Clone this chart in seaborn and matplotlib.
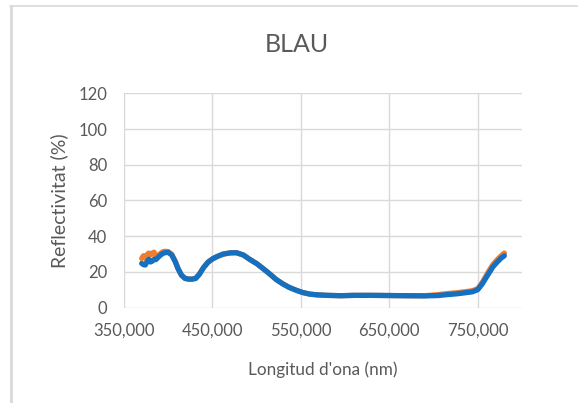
import matplotlib
matplotlib.use("Agg")
import matplotlib.pyplot as plt
from matplotlib.lines import Line2D
from matplotlib.ticker import FuncFormatter
import seaborn as sns
import pandas as pd

# Wavelength (nm) and reflectivity (%) of two measurements of the blue sample
wavelength = [370, 372, 374, 376, 378, 380, 382, 384, 386, 388, 390, 393, 396,
              400, 404, 408, 411, 415, 419, 423, 427, 431, 435, 440, 445, 450,
              455, 462, 470, 477, 485, 492, 500, 507, 515, 522, 530, 537, 545,
              552, 560, 568, 580, 595, 610, 630, 650, 670, 690, 705, 715, 725,
              735, 744, 750, 755, 761, 767, 772, 776, 780]
refl_a = [24.7, 24.0, 23.8, 25.5, 27.0, 25.5, 26.0, 27.0, 26.8, 27.8, 28.8, 30.0,
          30.7, 30.9, 29.4, 25.6, 21.9, 18.1, 16.3, 15.9, 15.9, 16.3, 18.5, 22.4,
          25.4, 27.2, 28.5, 29.9, 30.6, 30.7, 29.4, 27.0, 24.6, 21.9, 18.7, 15.7,
          13.1, 11.2, 9.6, 8.4, 7.5, 7.1, 6.8, 6.6, 6.8, 6.8, 6.7, 6.6, 6.5, 6.7,
          7.2, 7.6, 8.2, 8.8, 10.0, 13.2, 18.0, 22.7, 25.5, 27.5, 29.0]
refl_b = [27.5, 29.0, 27.5, 29.5, 30.5, 29.5, 30.5, 31.0, 28.5, 29.0, 29.8, 31.0,
          31.5, 31.3, 29.8, 25.8, 21.9, 18.1, 16.3, 15.9, 15.9, 16.3, 18.5, 22.4,
          25.4, 27.2, 28.5, 29.9, 30.6, 30.7, 29.4, 27.0, 24.6, 21.9, 18.7, 15.7,
          13.1, 11.2, 9.6, 8.4, 7.5, 7.1, 6.8, 6.6, 6.8, 6.8, 6.7, 6.6, 6.6, 7.2,
          7.8, 8.2, 8.8, 9.4, 10.6, 14.0, 19.2, 24.0, 26.8, 28.8, 30.5]

x_ticks = [350, 450, 550, 650, 750]
y_ticks = [0, 20, 40, 60, 80, 100, 120]

df = pd.concat([
    pd.DataFrame({"wl": wavelength, "refl": refl_b, "serie": "mesura_2"}),
    pd.DataFrame({"wl": wavelength, "refl": refl_a, "serie": "mesura_1"}),
])

sns.set_theme(style="white")
plt.rcParams["font.family"] = ["Lato", "DejaVu Sans"]
text_col = "#595959"
grid_col = "#d9d9d9"

fig = plt.figure(figsize=(5.78, 4.03), dpi=100)
ax = fig.add_axes([124 / 578, 1 - 307.5 / 403, 398 / 578, 214.2 / 403])

sns.lineplot(data=df, x="wl", y="refl", hue="serie",
             hue_order=["mesura_2", "mesura_1"],
             palette={"mesura_2": "#ED7D31", "mesura_1": "#1470C0"},
             linewidth=3.8, legend=False, sort=False, ax=ax,
             solid_capstyle="round", solid_joinstyle="round")

ax.set_xlim(350, 800)
ax.set_ylim(0, 120)
ax.set_xticks(x_ticks)
ax.set_yticks(y_ticks)
ax.xaxis.set_major_formatter(FuncFormatter(lambda v, p: f"{v:.3f}".replace(".", ",")))
ax.grid(True, color=grid_col, linewidth=1.0)
ax.set_axisbelow(True)
for s in ax.spines.values():
    s.set_visible(False)
ax.tick_params(axis="both", length=0, labelsize=12, labelcolor=text_col)
ax.tick_params(axis="x", pad=11)
ax.tick_params(axis="y", pad=12)

ax.set_xlabel("Longitud d'ona (nm)", fontsize=12.3, color=text_col)
ax.set_ylabel("Reflectivitat (%)", fontsize=14, color=text_col)
ax.xaxis.set_label_coords(0.5, -0.253)
ax.yaxis.set_label_coords(-0.141, 0.5)

fig.text(297 / 578, 1 - 45 / 403, "BLAU", fontsize=18, color=text_col,
         ha="center", va="center")

# Chart frame border (top and left edges)
fig.add_artist(Line2D([10 / 578, 1], [1 - 6 / 403, 1 - 6 / 403],
                      transform=fig.transFigure, color=grid_col, linewidth=1.2))
fig.add_artist(Line2D([11 / 578, 11 / 578], [0, 1 - 6 / 403],
                      transform=fig.transFigure, color=grid_col, linewidth=2.0))

fig.savefig("out.png", dpi=100, facecolor="white")
